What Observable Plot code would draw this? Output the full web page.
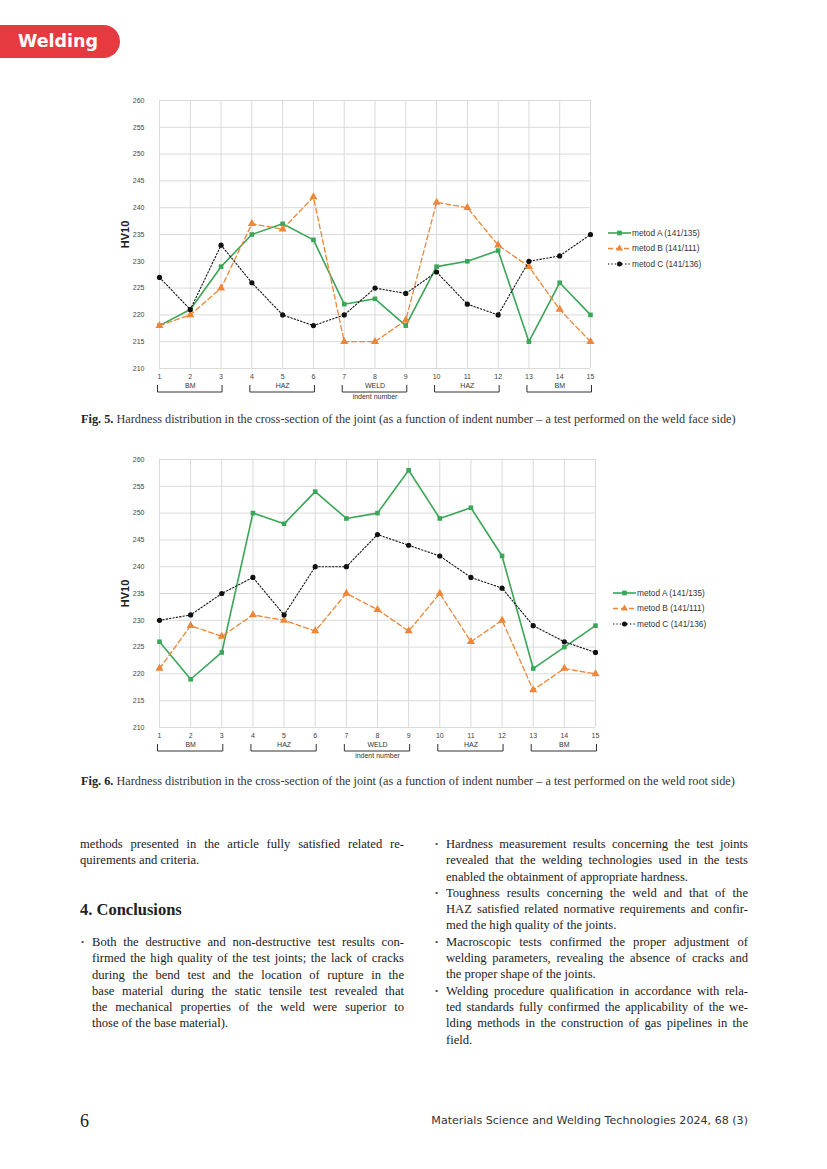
<!DOCTYPE html>
<html><head><meta charset="utf-8">
<script src="https://cdn.jsdelivr.net/npm/d3@7"></script>
<script src="https://cdn.jsdelivr.net/npm/@observablehq/plot@0.6"></script>
<style>
body{margin:0;width:827px;height:1169px;position:relative;background:#fff;overflow:hidden}
.abs{position:absolute}
.tab{left:0;top:25px;width:120px;height:33px;background:#e63a40;border-radius:0 17px 17px 0;color:#fff;font:bold 17.5px "DejaVu Sans",sans-serif;line-height:33px;padding-left:18px;box-sizing:border-box}
.cap{font-family:"Liberation Serif",serif;font-size:12.25px;color:#333;white-space:nowrap;line-height:14px}
.cap b{color:#222}
.txt{font-family:"Liberation Serif",serif;font-size:12.6px;line-height:16.3px;color:#222}
.j{text-align:justify;text-align-last:justify}
.bul{position:relative}
.bul:before{content:"•";position:absolute;left:-11px;font-size:9px;color:#444}
h2{margin:0;font-family:"Liberation Serif",serif;font-weight:bold;font-size:16.5px;color:#222}
.foot{font-family:"DejaVu Sans",sans-serif;font-size:11.1px;color:#333}
</style></head>
<body>
<div class="abs tab">Welding</div>
<div id="fig5" class="abs" style="left:100px;top:90px"></div>
<div id="leg5" class="abs" style="left:600px;top:224px"></div>
<div class="abs cap" style="left:81px;top:412px"><b>Fig. 5.</b> Hardness distribution in the cross-section of the joint (as a function of indent number – a test performed on the weld face side)</div>
<div id="fig6" class="abs" style="left:100px;top:449px"></div>
<div id="leg6" class="abs" style="left:605px;top:584px"></div>
<div class="abs cap" style="left:81px;top:774px"><b>Fig. 6.</b> Hardness distribution in the cross-section of the joint (as a function of indent number – a test performed on the weld root side)</div>

<div class="abs txt" style="left:80px;top:836px;width:324px">
<div class="j">methods presented in the article fully satisfied related re-</div>
<div>quirements and criteria.</div>
</div>
<h2 class="abs" style="left:80px;top:900px">4. Conclusions</h2>
<div class="abs txt" style="left:92px;top:934px;width:312px">
<div class="j bul">Both the destructive and non-destructive test results con-</div>
<div class="j">firmed the high quality of the test joints; the lack of cracks</div>
<div class="j">during the bend test and the location of rupture in the</div>
<div class="j">base material during the static tensile test revealed that</div>
<div class="j">the mechanical properties of the weld were superior to</div>
<div>those of the base material).</div>
</div>
<div class="abs txt" style="left:446px;top:836px;width:302px">
<div class="j bul">Hardness measurement results concerning the test joints</div>
<div class="j">revealed that the welding technologies used in the tests</div>
<div>enabled the obtainment of appropriate hardness.</div>
<div class="j bul">Toughness results concerning the weld and that of the</div>
<div class="j">HAZ satisfied related normative requirements and confir-</div>
<div>med the high quality of the joints.</div>
<div class="j bul">Macroscopic tests confirmed the proper adjustment of</div>
<div class="j">welding parameters, revealing the absence of cracks and</div>
<div>the proper shape of the joints.</div>
<div class="j bul">Welding procedure qualification in accordance with rela-</div>
<div class="j">ted standards fully confirmed the applicability of the we-</div>
<div class="j">lding methods in the construction of gas pipelines in the</div>
<div>field.</div>
</div>
<div class="abs" style="left:80px;top:1111px;font-family:'Liberation Serif',serif;font-size:18px;color:#222">6</div>
<div class="abs foot" style="right:79px;top:1114px">Materials Science and Welding Technologies 2024, 68 (3)</div>

<script>
// ---- data ----
const indents = [1,2,3,4,5,6,7,8,9,10,11,12,13,14,15];
const yTicks = [210,215,220,225,230,235,240,245,250,255,260];
const seriesNames = ["metod A (141/135)", "metod B (141/111)", "metod C (141/136)"];
const fig5A = [218,221,229,235,237,234,222,223,218,229,230,232,215,226,220];
const fig5B = [218,220,225,237,236,242,215,215,219,241,240,233,229,221,215];
const fig5C = [227,221,233,226,220,218,220,225,224,228,222,220,230,231,235];
const fig6A = [226,219,224,250,248,254,249,250,258,249,251,242,221,225,229];
const fig6B = [221,229,227,231,230,228,235,232,228,235,226,230,217,221,220];
const fig6C = [230,231,235,238,231,240,240,246,244,242,238,236,229,226,224];
const zoneNames = ["BM","HAZ","WELD","HAZ","BM"];
const zoneStart = [1,4,7,10,13];
const zoneEnd = [3,6,9,12,15];

// ---- styles ----
const styles = [
  {color:"#3aa657", symbol:"square", dash:null, width:1.6, r:2.6},
  {color:"#ef8536", symbol:"triangle", dash:"5,3", width:1.3, r:3},
  {color:"#111111", symbol:"circle", dash:"1.4,2", width:1.1, r:2.6}
];
const font = "Liberation Sans, Arial, sans-serif";

function makeChart(vals, width) {
  const data = [];
  vals.forEach((arr, s) => arr.forEach((v, i) => data.push({x: indents[i], y: v, s})));
  const zones = zoneNames.map((n, i) => ({name: n, a: zoneStart[i], b: zoneEnd[i], m: (zoneStart[i] + zoneEnd[i]) / 2}));
  const marks = [
    Plot.gridX(indents, {stroke:"#dadada", strokeOpacity:1, strokeWidth:1}),
    Plot.gridY(yTicks, {stroke:"#dadada", strokeOpacity:1, strokeWidth:1})
  ];
  styles.forEach((st, s) => {
    const d = data.filter(e => e.s === s);
    marks.push(Plot.line(d, {x:"x", y:"y", stroke:st.color, strokeWidth:st.width, strokeDasharray:st.dash}));
    marks.push(Plot.dot(d, {x:"x", y:"y", symbol:() => st.symbol, fill:st.color, stroke:"none", r:st.r}));
  });
  // zone brackets drawn with the x scale
  marks.push((index, scales, values, dims) => {
    const g = d3.create("svg:g").attr("fill","none").attr("stroke","#333").attr("stroke-width",1);
    const yb = dims.height - dims.marginBottom;
    zones.forEach(z => {
      const x1 = scales.x(z.a) - 1.5, x2 = scales.x(z.b) + 1.5;
      g.append("path").attr("d", `M${x1},${yb+17}V${yb+24}H${x2}V${yb+17}`);
    });
    return g.node();
  });
  marks.push(Plot.text(zones, {x:"m", text:"name", frameAnchor:"bottom", dy:19.5, fontSize:7, fill:"#333", fontFamily:font}));
  marks.push(Plot.text(["indent number"], {frameAnchor:"bottom", dy:30.5, fontSize:7, fill:"#333", fontFamily:font}));
  marks.push(Plot.text(["HV10"], {frameAnchor:"left", textAnchor:"middle", rotate:-90, dx:-34, fontSize:11, fontWeight:"bold", fill:"#222", fontFamily:font}));
  return Plot.plot({
    width, height: 318,
    marginLeft: 59, marginRight: 10, marginTop: 10, marginBottom: 40,
    style: {fontFamily: font, fontSize: "7px", color: "#444", background: "transparent", overflow: "visible"},
    x: {domain:[1,15], ticks: indents, tickFormat: d => d, tickSize: 0, tickPadding: 6, label: null},
    y: {domain:[210,260], ticks: yTicks, tickSize: 0, tickPadding: 15, label: null},
    marks
  });
}

function makeLegend() {
  const svg = d3.create("svg").attr("width", 140).attr("height", 50).style("font-family", font);
  styles.forEach((st, i) => {
    const y = 9 + i * 15.5;
    svg.append("line").attr("x1", 8).attr("x2", 31).attr("y1", y).attr("y2", y)
      .attr("stroke", st.color).attr("stroke-width", st.width).attr("stroke-dasharray", st.dash);
    const sym = st.symbol === "square" ? d3.symbolSquare : st.symbol === "triangle" ? d3.symbolTriangle : d3.symbolCircle;
    const size = st.symbol === "circle" ? 20 : 22;
    svg.append("path").attr("d", d3.symbol(sym, size)()).attr("transform", `translate(19.5,${y})`).attr("fill", st.color);
    svg.append("text").attr("x", 32).attr("y", y).attr("dy", "0.35em").attr("font-size", 8.3).attr("fill", "#333").text(seriesNames[i]);
  });
  return svg.node();
}

document.getElementById("fig5").append(makeChart([fig5A, fig5B, fig5C], 500));
document.getElementById("fig6").append(makeChart([fig6A, fig6B, fig6C], 505));
document.getElementById("leg5").append(makeLegend());
document.getElementById("leg6").append(makeLegend());
</script>
</body></html>
